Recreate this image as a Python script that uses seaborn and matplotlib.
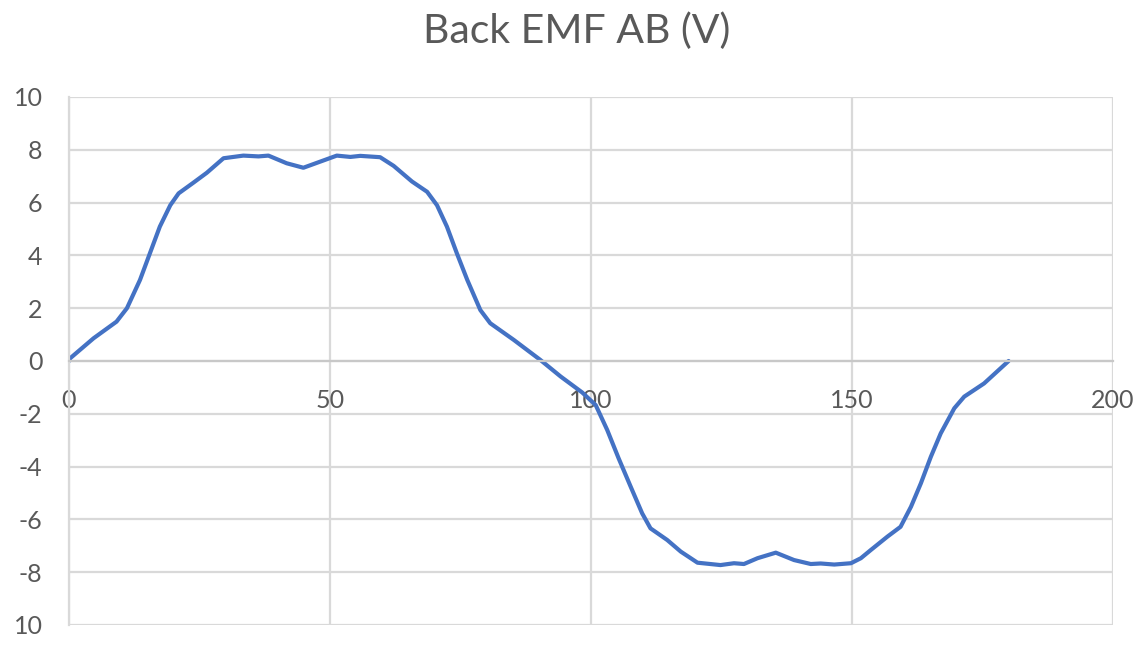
import matplotlib
matplotlib.use("Agg")
import matplotlib.pyplot as plt
import seaborn as sns
import pandas as pd

# Data
angle = [0, 0.2, 4.7, 9.1, 11.1, 13.6, 15.5, 17.4, 19.4, 21.0, 23.8, 26.4, 29.6, 33.4, 36.3, 38.2,
         41.7, 44.9, 48.1, 51.3, 53.9, 55.8, 59.6, 62.2, 65.7, 68.6, 70.5, 72.4, 74.3, 76.3,
         78.8, 80.7, 85.2, 90.3, 94.2, 98.3, 100.9, 103.1, 105.3, 107.6, 109.8, 111.4, 114.6,
         117.2, 120.4, 124.8, 127.4, 129.3, 131.9, 135.4, 138.9, 142.1, 144.0, 146.6, 149.8,
         151.7, 153.6, 156.8, 159.3, 161.3, 163.2, 165.1, 167.0, 169.6, 171.5, 175.3, 180.0]
emf = [0, 0.1, 0.86, 1.49, 2.0, 3.07, 4.08, 5.09, 5.9, 6.35, 6.75, 7.13, 7.68, 7.78, 7.75, 7.78,
       7.49, 7.32, 7.55, 7.78, 7.73, 7.77, 7.72, 7.39, 6.8, 6.41, 5.9, 5.09, 4.08, 3.07,
       1.93, 1.43, 0.8, 0.04, -0.59, -1.19, -1.67, -2.61, -3.69, -4.76, -5.77, -6.34, -6.78,
       -7.22, -7.64, -7.73, -7.66, -7.69, -7.47, -7.26, -7.54, -7.69, -7.67, -7.71, -7.66,
       -7.47, -7.16, -6.65, -6.28, -5.52, -4.63, -3.63, -2.74, -1.79, -1.35, -0.85, 0.0]

title = "Back EMF AB (V)"
x_ticks = [0, 50, 100, 150, 200]
x_tick_labels = ["0", "50", "100", "150", "200"]
y_ticks = [-10, -8, -6, -4, -2, 0, 2, 4, 6, 8, 10]
y_tick_labels = ["10", "-8", "-6", "-4", "-2", "0", "2", "4", "6", "8", "10"]

sns.set_theme(style="white")
plt.rcParams["font.family"] = ["Lato", "DejaVu Sans"]

df = pd.DataFrame({"angle": angle, "emf": emf})

fig = plt.figure(figsize=(11.47, 6.61), dpi=100)
ax = fig.add_axes([69 / 1147, 1 - 625 / 661, (1113 - 69) / 1147, (625 - 97) / 661])

grid_c = "#d9d9d9"
text_c = "#595959"

sns.lineplot(data=df, x="angle", y="emf", ax=ax, color="#4472C4", linewidth=3.0,
             estimator=None, sort=False)
for ln in ax.get_lines():
    ln.set_solid_joinstyle("round")
    ln.set_solid_capstyle("round")

ax.set_xlim(0, 200)
ax.set_ylim(-10, 10)
ax.set_xticks(x_ticks)
ax.set_xticklabels(x_tick_labels)
ax.set_yticks(y_ticks)
ax.set_yticklabels(y_tick_labels)

ax.grid(True, color=grid_c, linewidth=1.6)
ax.set_axisbelow(True)

for s in ["top", "right"]:
    ax.spines[s].set_visible(False)
ax.spines["left"].set_color(grid_c)
ax.spines["left"].set_linewidth(1.6)
ax.spines["bottom"].set_position(("data", 0))
ax.spines["bottom"].set_color("#c8c8c8")
ax.spines["bottom"].set_linewidth(1.6)

ax.tick_params(axis="y", length=0, pad=19, labelsize=18, labelcolor=text_c)
ax.tick_params(axis="x", length=0, pad=20, labelsize=18, labelcolor=text_c)

ax.set_xlabel("")
ax.set_ylabel("")
fig.text(577 / 1147, 1 - 31 / 661, title, ha="center", va="center",
         fontsize=29.5, color=text_c)

fig.savefig("out.png", dpi=100)
